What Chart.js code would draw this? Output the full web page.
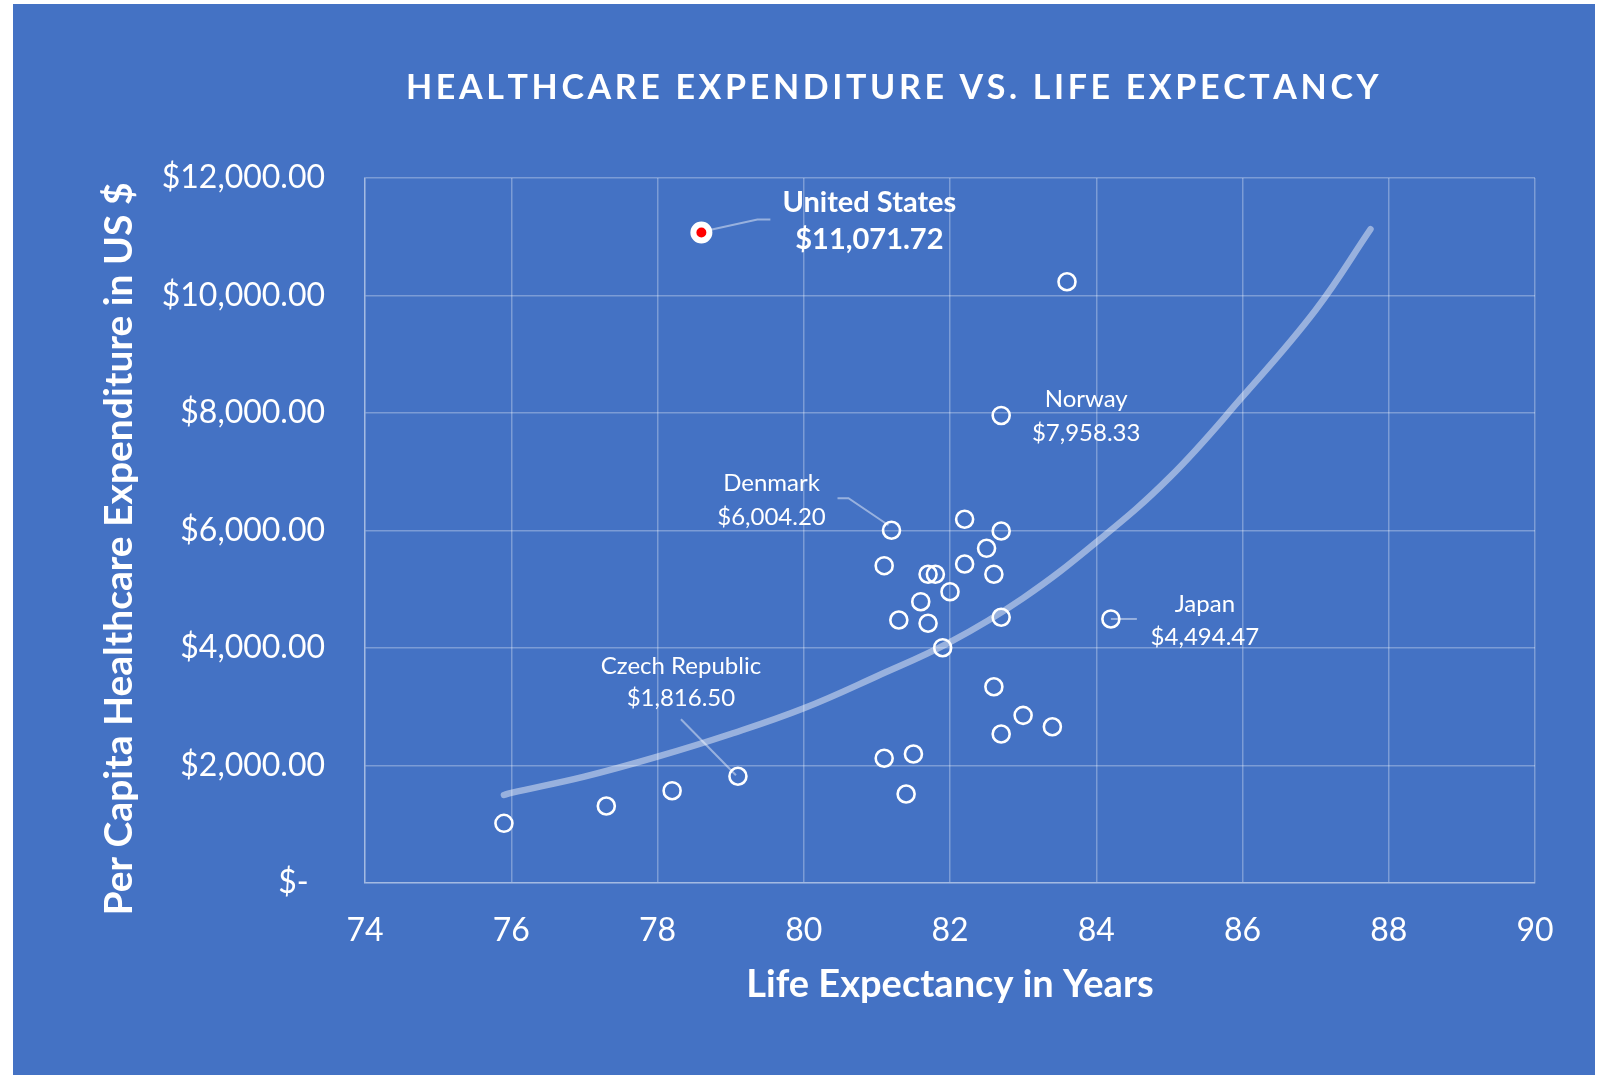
<!DOCTYPE html>
<html>
<head>
<meta charset="utf-8">
<script src="https://cdn.jsdelivr.net/npm/chart.js@4.4.1/dist/chart.umd.min.js"></script>
<style>
  html, body { margin: 0; padding: 0; background: #ffffff; }
  #wrap { position: absolute; left: 13px; top: 4px; width: 1582px; height: 1071px; background: #4472c4; }
</style>
</head>
<body>
<div id="wrap"><canvas id="chart" width="1582" height="1071"></canvas></div>
<script>
// labelled countries
const namedCountries = ['United States', 'Norway', 'Denmark', 'Japan', 'Czech Republic'];
const namedLife = [78.6, 82.7, 81.2, 84.2, 79.1];
const namedSpend = [11071.72, 7958.33, 6004.20, 4494.47, 1816.50];

// the other countries (unlabelled)
const otherLife = [83.6, 82.2, 82.7, 82.5, 81.1, 82.2, 81.7, 81.8, 82.6, 82.0, 81.6, 81.3, 81.7, 82.7,
    81.9, 82.6, 83.0, 83.4, 82.7, 81.1, 81.5, 81.4, 78.2, 77.3, 75.9];
const otherSpend = [10234, 6191, 5991, 5697, 5401, 5430, 5255, 5255, 5255, 4958, 4788, 4477, 4421, 4523,
    4005, 3341, 2854, 2660, 2536, 2123, 2196, 1515, 1571, 1311, 1016];

// exponential trendline
const trendLife = [75.9, 76, 77, 78, 79, 80, 81, 82, 83, 84, 85, 86, 87, 87.75];
const trendSpend = [1498, 1535, 1810, 2150, 2536, 2974, 3520, 4100, 4850, 5800, 6900, 8277, 9753, 11127];

const xMin = 74, xMax = 90, xStep = 2;
const yMin = 0, yMax = 12000, yStep = 2000;

const titleText = 'HEALTHCARE EXPENDITURE VS. LIFE EXPECTANCY';
const xTitle = 'Life Expectancy in Years';
const yTitle = 'Per Capita Healthcare Expenditure in US $';

const FONT = 'Lato, "Open Sans", sans-serif';
const gridColor = 'rgba(255,255,255,0.3)';

function money(v) {
    return '$' + v.toLocaleString('en-US', { minimumFractionDigits: 2, maximumFractionDigits: 2 });
}

// label placement, pixels relative to the point
const calloutStyle = [
    { dx: 168, dy: [-21, 16], bold: true, leader: [[6, -2], [56, -13], [69, -13]] },
    { dx: 85, dy: [-8, 26] },
    { dx: -120, dy: [-39, -5], leader: [[-54, -32], [-43, -32], [-3, -5]] },
    { dx: 94, dy: [-7, 26], leader: [[0, 0], [26, 0]] },
    { dx: -57, dy: [-102, -70], leader: [[-57, -57], [-2, -1]] }
];

const calloutPlugin = {
    id: 'callouts',
    afterDatasetsDraw(chart) {
        const ctx = chart.ctx;
        const xs = chart.scales.x, ys = chart.scales.y;
        ctx.save();
        namedCountries.forEach((name, i) => {
            const st = calloutStyle[i];
            const px = xs.getPixelForValue(namedLife[i]);
            const py = ys.getPixelForValue(namedSpend[i]);
            if (st.leader) {
                ctx.strokeStyle = 'rgba(255,255,255,0.45)';
                ctx.lineWidth = 2;
                ctx.beginPath();
                st.leader.forEach((p, k) => {
                    if (k === 0) ctx.moveTo(px + p[0], py + p[1]);
                    else ctx.lineTo(px + p[0], py + p[1]);
                });
                ctx.stroke();
            }
            ctx.fillStyle = '#ffffff';
            ctx.textAlign = 'center';
            ctx.textBaseline = 'alphabetic';
            ctx.font = st.bold ? 'bold 29px ' + FONT : '24px ' + FONT;
            ctx.fillText(name, px + st.dx, py + st.dy[0]);
            ctx.fillText(money(namedSpend[i]), px + st.dx, py + st.dy[1]);
        });
        ctx.restore();
    }
};

const titlePlugin = {
    id: 'titles',
    afterDraw(chart) {
        const ctx = chart.ctx;
        ctx.save();
        ctx.fillStyle = '#ffffff';
        // chart title, letter spaced
        ctx.font = 'bold 34px ' + FONT;
        ctx.textBaseline = 'alphabetic';
        ctx.textAlign = 'left';
        const target = 966;
        const natural = ctx.measureText(titleText).width;
        const gap = (target - natural) / (titleText.length - 1);
        let x = 393;
        for (const ch of titleText) {
            ctx.fillText(ch, x, 95);
            x += ctx.measureText(ch).width + gap;
        }
        // value axis title
        ctx.font = 'bold 39px ' + FONT;
        ctx.textAlign = 'center';
        ctx.textBaseline = 'middle';
        ctx.translate(106, 545);
        ctx.rotate(-Math.PI / 2);
        ctx.fillText(yTitle, 0, 0);
        ctx.restore();
    }
};

const others = otherLife.map((v, i) => ({ x: v, y: otherSpend[i] }));
const named = namedLife.slice(1).map((v, i) => ({ x: v, y: namedSpend[i + 1] }));

new Chart('chart', {
    type: 'scatter',
    data: {
        datasets: [
            {
                data: [{ x: namedLife[0], y: namedSpend[0] }],
                pointRadius: 8,
                pointBorderWidth: 6,
                pointBackgroundColor: '#ff0000',
                pointBorderColor: '#ffffff'
            },
            {
                data: named.concat(others),
                pointRadius: 8.5,
                pointBorderWidth: 2.6,
                pointBackgroundColor: 'rgba(0,0,0,0)',
                pointBorderColor: '#ffffff'
            },
            {
                data: trendLife.map((v, i) => ({ x: v, y: trendSpend[i] })),
                showLine: true,
                pointRadius: 0,
                borderColor: 'rgba(255,255,255,0.45)',
                borderWidth: 6.5,
                borderCapStyle: 'round',
                tension: 0.4
            }
        ]
    },
    options: {
        responsive: false,
        animation: false,
        layout: { padding: { left: 0, top: 174, right: 60, bottom: 0 } },
        plugins: {
            legend: { display: false },
            tooltip: { enabled: false }
        },
        scales: {
            x: {
                min: xMin, max: xMax,
                afterFit(s) { s.height = 192; },
                ticks: { stepSize: xStep, color: '#ffffff', padding: 28, font: { family: FONT, size: 32 } },
                grid: { color: gridColor, lineWidth: 1.5, drawTicks: false },
                border: { color: gridColor, width: 1.5 },
                title: { display: true, text: xTitle, color: '#ffffff', padding: { top: 0, bottom: 67 },
                    font: { family: FONT, size: 38, weight: 'bold' } }
            },
            y: {
                min: yMin, max: yMax,
                afterFit(s) { s.width = 352; },
                ticks: {
                    stepSize: yStep, color: '#ffffff', padding: 40, font: { family: FONT, size: 32 },
                    callback: v => v === 0 ? '$-  ' : money(v)
                },
                grid: { color: gridColor, lineWidth: 1.5, drawTicks: false },
                border: { color: gridColor, width: 1.5 },
                title: { display: false }
            }
        }
    },
    plugins: [calloutPlugin, titlePlugin]
});
</script>
</body>
</html>
